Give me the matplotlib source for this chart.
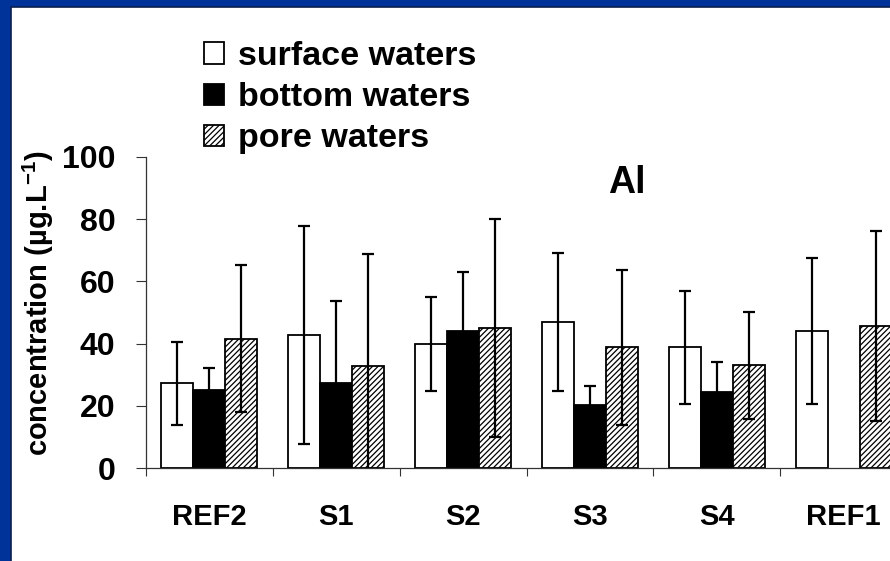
import matplotlib
matplotlib.use('Agg')
import matplotlib.pyplot as plt
from matplotlib.patches import Rectangle
import numpy as np

plt.rcParams['font.family'] = ['Liberation Sans', 'DejaVu Sans']
plt.rcParams['font.weight'] = 'bold'
plt.rcParams['mathtext.fontset'] = 'custom'
plt.rcParams['mathtext.rm'] = 'Liberation Sans:bold'
plt.rcParams['mathtext.default'] = 'rm'
plt.rcParams['hatch.linewidth'] = 0.9

# datos
sitios = ['REF2', 'S1', 'S2', 'S3', 'S4', 'REF1']
surface = [27.2, 42.8, 39.9, 46.8, 38.8, 44.0]
surface_err = [13.4, 35.0, 15.0, 22.2, 18.2, 23.4]
bottom = [25.1, 27.3, 44.0, 20.3, 24.4, np.nan]
bottom_err = [7.2, 26.4, 19.0, 6.2, 9.7, np.nan]
pore = [41.6, 32.9, 45.1, 38.8, 33.0, 45.7]
pore_err = [23.7, 36.0, 35.0, 25.0, 17.3, 30.6]
etiquetas = ['surface waters', 'bottom waters', 'pore waters']

W, H = 890, 561
fig = plt.figure(figsize=(W / 100, H / 100), dpi=100, facecolor='#003399')
# panel blanco
fig.patches.append(Rectangle((11 / W, -0.01), 1.0, 1 - 7 / H + 0.01, transform=fig.transFigure,
                             facecolor='white', edgecolor='#0b1f4f', linewidth=1.2, zorder=-10))

ax = fig.add_axes([146 / W, 1 - 468 / H, (907 - 146) / W, (468 - 157) / H])
ax.set_facecolor('none')

x = np.arange(len(sitios))
w = 0.252
ek = dict(ecolor='black', elinewidth=1.6, capsize=4, capthick=1.6)

b1 = ax.bar(x - w, surface, w, color='white', edgecolor='black', linewidth=1.3,
            yerr=surface_err, error_kw=ek, label=etiquetas[0])
b2 = ax.bar(x, bottom, w, color='black', edgecolor='black', linewidth=1.3,
            yerr=bottom_err, error_kw=ek, label=etiquetas[1])
b3 = ax.bar(x + w, pore, w, color='white', edgecolor='black', linewidth=1.3, hatch='//////',
            yerr=pore_err, error_kw=ek, label=etiquetas[2])

ax.set_xlim(-0.5, 5.5)
ax.set_ylim(0, 100)
ax.set_yticks(np.arange(0, 101, 20))
ax.set_xticks(np.arange(-0.5, 6, 1))
ax.set_xticklabels([])
ax.set_xticks(x, minor=True)
ax.set_xticklabels(sitios, minor=True, fontsize=21, fontweight='bold')
ax.tick_params(axis='x', which='minor', length=0, pad=25)
ax.tick_params(axis='x', which='major', length=6, width=0.8, color='#333333')
ax.tick_params(axis='y', length=7, width=0.8, color='#333333', pad=15, labelsize=23)

for s in ['top', 'right']:
    ax.spines[s].set_visible(False)
for s in ['left', 'bottom']:
    ax.spines[s].set_linewidth(0.9)
    ax.spines[s].set_color('#333333')

ax.set_ylabel('concentration (µg.L$^{-1}$)', fontsize=21, fontweight='bold')
ax.yaxis.set_label_coords((56 - 146) / (907 - 146), 0.53)

fig.text(627 / W, 1 - 183 / H, 'Al', ha='center', va='center', fontsize=27, fontweight='bold')

fig.legend(handles=[b1, b2, b3], labels=etiquetas, loc='upper left',
           bbox_to_anchor=(204 / W, 1 - 41 / H), frameon=False, fontsize=24.5,
           handlelength=0.58, handleheight=0.58, handletextpad=0.42, labelspacing=0.3,
           borderpad=0, borderaxespad=0)

fig.savefig('out.png', dpi=100, facecolor=fig.get_facecolor())
